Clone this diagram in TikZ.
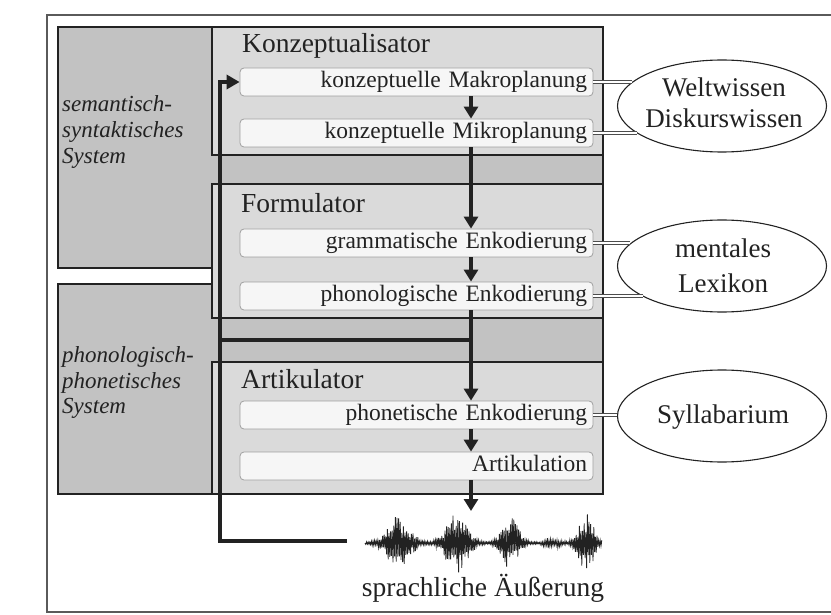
\documentclass[tikz,border=0pt]{standalone}
\usepackage{fontspec}
\setmainfont{Liberation Serif}
\usetikzlibrary{arrows.meta,shapes.geometric,calc}
\definecolor{semfill}{RGB}{194,194,194}
\definecolor{modfill}{RGB}{218,218,218}
\definecolor{subfill}{RGB}{246,246,246}
\definecolor{ink}{RGB}{34,34,34}
\definecolor{framecol}{RGB}{90,90,90}
\pgfmathdeclarefunction{wenv}{1}{%
  \pgfmathparse{27*exp(-((#1-398)/15)*((#1-398)/15))+30*exp(-((#1-457)/14)*((#1-457)/14))+25*exp(-((#1-510)/11)*((#1-510)/11))+5*exp(-((#1-552)/9)*((#1-552)/9))+28*exp(-((#1-586)/10)*((#1-586)/10))+1.2}%
}
\begin{document}
\begin{tikzpicture}[x=1pt,y=-1pt,
  every node/.style={text=ink},
  sysbox/.style={draw=ink, line width=2pt, fill=semfill},
  modbox/.style={draw=ink, line width=1.6pt, fill=modfill, inner sep=0pt},
  subbox/.style={draw=gray!75, line width=0.8pt, fill=subfill, rounded corners=4pt,
    minimum width=353pt, minimum height=28pt, text width=341pt, align=right,
    inner xsep=6pt, inner ysep=0pt, text height=16pt, text depth=5pt,
    font=\fontsize{23.5}{26}\selectfont},
  modlabel/.style={anchor=base west, inner sep=0pt, font=\fontsize{27.5}{30}\selectfont},
  syslabel/.style={anchor=base west, inner sep=0pt, font=\fontsize{23}{26}\selectfont\itshape},
  store/.style={draw=ink, line width=1.1pt, ellipse, minimum width=209pt, minimum height=92pt, inner sep=0pt},
  storetext/.style={anchor=base, inner sep=0pt, font=\fontsize{27}{30}\selectfont},
  flow/.style={draw=ink, line width=4.5pt, -{Triangle[width=14pt,length=12pt]}},
  fbline/.style={draw=ink, line width=4.5pt, line join=miter},
  link/.style={draw=gray!60!black, line width=0.9pt, double=white, double distance=2pt},
  wave/.style={draw=ink, line width=0.8pt},
]
\useasboundingbox (0,0) rectangle (831,615);
% outer frame
\draw[framecol, line width=1.3pt] (900,15) -- (47,15) -- (47,612) -- (900,612);
% systems
\node (sem) [sysbox, anchor=north west, minimum width=545pt, minimum height=241pt] at (57,26) {};
\node (pho) [sysbox, anchor=north west, minimum width=545pt, minimum height=210pt] at (57,283) {};
% modules
\node (konz) [modbox, anchor=north west, minimum width=391pt, minimum height=128pt] at (211,26) {};
\node (form) [modbox, anchor=north west, minimum width=391pt, minimum height=134pt] at (211,183) {};
\node (arti) [modbox, anchor=north west, minimum width=391pt, minimum height=132pt] at (211,361) {};
% labels
\node (konzlab) [modlabel] at (242,53) {Konzeptualisator};
\node (formlab) [modlabel] at (241,213) {Formulator};
\node (artilab) [modlabel] at (241,388) {Artikulator};
\node (sem1) [syslabel] at (62,112) {semantisch-};
\node (sem2) [syslabel] at (62,138) {syntaktisches};
\node (sem3) [syslabel] at (62,164) {System};
\node (pho1) [syslabel] at (62,362) {phonologisch-};
\node (pho2) [syslabel] at (62,388) {phonetisches};
\node (pho3) [syslabel] at (62,413) {System};
% sub-processes
\node (makro) [subbox] at (416.5,82) {konzeptuelle Makroplanung};
\node (mikro) [subbox] at (416.5,133) {konzeptuelle Mikroplanung};
\node (gram)  [subbox] at (416.5,243) {grammatische Enkodierung};
\node (phonol)[subbox] at (416.5,296) {phonologische Enkodierung};
\node (phonet)[subbox] at (416.5,415) {phonetische Enkodierung};
\node (artik) [subbox] at (416.5,466) {Artikulation};
% stores
\node (welt) [store] at (722,106) {};
\node (lex)  [store] at (722,266) {};
\node (syl)  [store] at (722,416) {};
\node (welt1) [storetext] at (724,97) {Weltwissen};
\node (welt2) [storetext] at (724,128) {Diskurswissen};
\node (lex1)  [storetext] at (723,258) {mentales};
\node (lex2)  [storetext] at (723,292) {Lexikon};
\node (syl1)  [storetext] at (723,423) {Syllabarium};
% links to stores
\draw[link] (makro.east) -- (makro.east -| welt.165);
\draw[link] (mikro.east) -- (mikro.east -| welt.198);
\draw[link] (gram.east) -- (gram.east -| lex.166);
\draw[link] (phonol.east) -- (phonol.east -| lex.201);
\draw[link] (phonet.east) -- (phonet.east -| syl.west);
% main flow
\coordinate (spine) at (471,0);
\coordinate (wavetop) at (471,511);
\coordinate (junc) at (471,340);
\coordinate (fbx) at (220,0);
\coordinate (fbend) at (347,541);
\draw[flow] (makro.south -| spine) -- (mikro.north -| spine);
\draw[flow] (mikro.south -| spine) -- (gram.north -| spine);
\draw[flow] (gram.south -| spine) -- (phonol.north -| spine);
\draw[flow] (phonol.south -| spine) -- (phonet.north -| spine);
\draw[flow] (phonet.south -| spine) -- (artik.north -| spine);
\draw[flow] (artik.south -| spine) -- (wavetop);
% monitoring loop
\draw[fbline] (junc) -- (fbx |- junc);
\draw[fbline, -{Triangle[width=14pt,length=13pt]}] (fbend) -| (fbx |- makro.west) -- (makro.west);
% waveform
\pgfmathsetseed{11}
\draw[wave] (365,543) \foreach \k in {1,...,296}{ -- ({365+0.8*\k},{543+wenv(365+0.8*\k)*(2*mod(\k,2)-1)*(0.35+0.65*rnd)}) };
\draw[ink, line width=1pt] (365,543) -- (602,543);
% utterance
\node (utter) [anchor=base, inner sep=0pt, font=\fontsize{27.5}{30}\selectfont] at (483,596) {sprachliche Äußerung};
\end{tikzpicture}
\end{document}
